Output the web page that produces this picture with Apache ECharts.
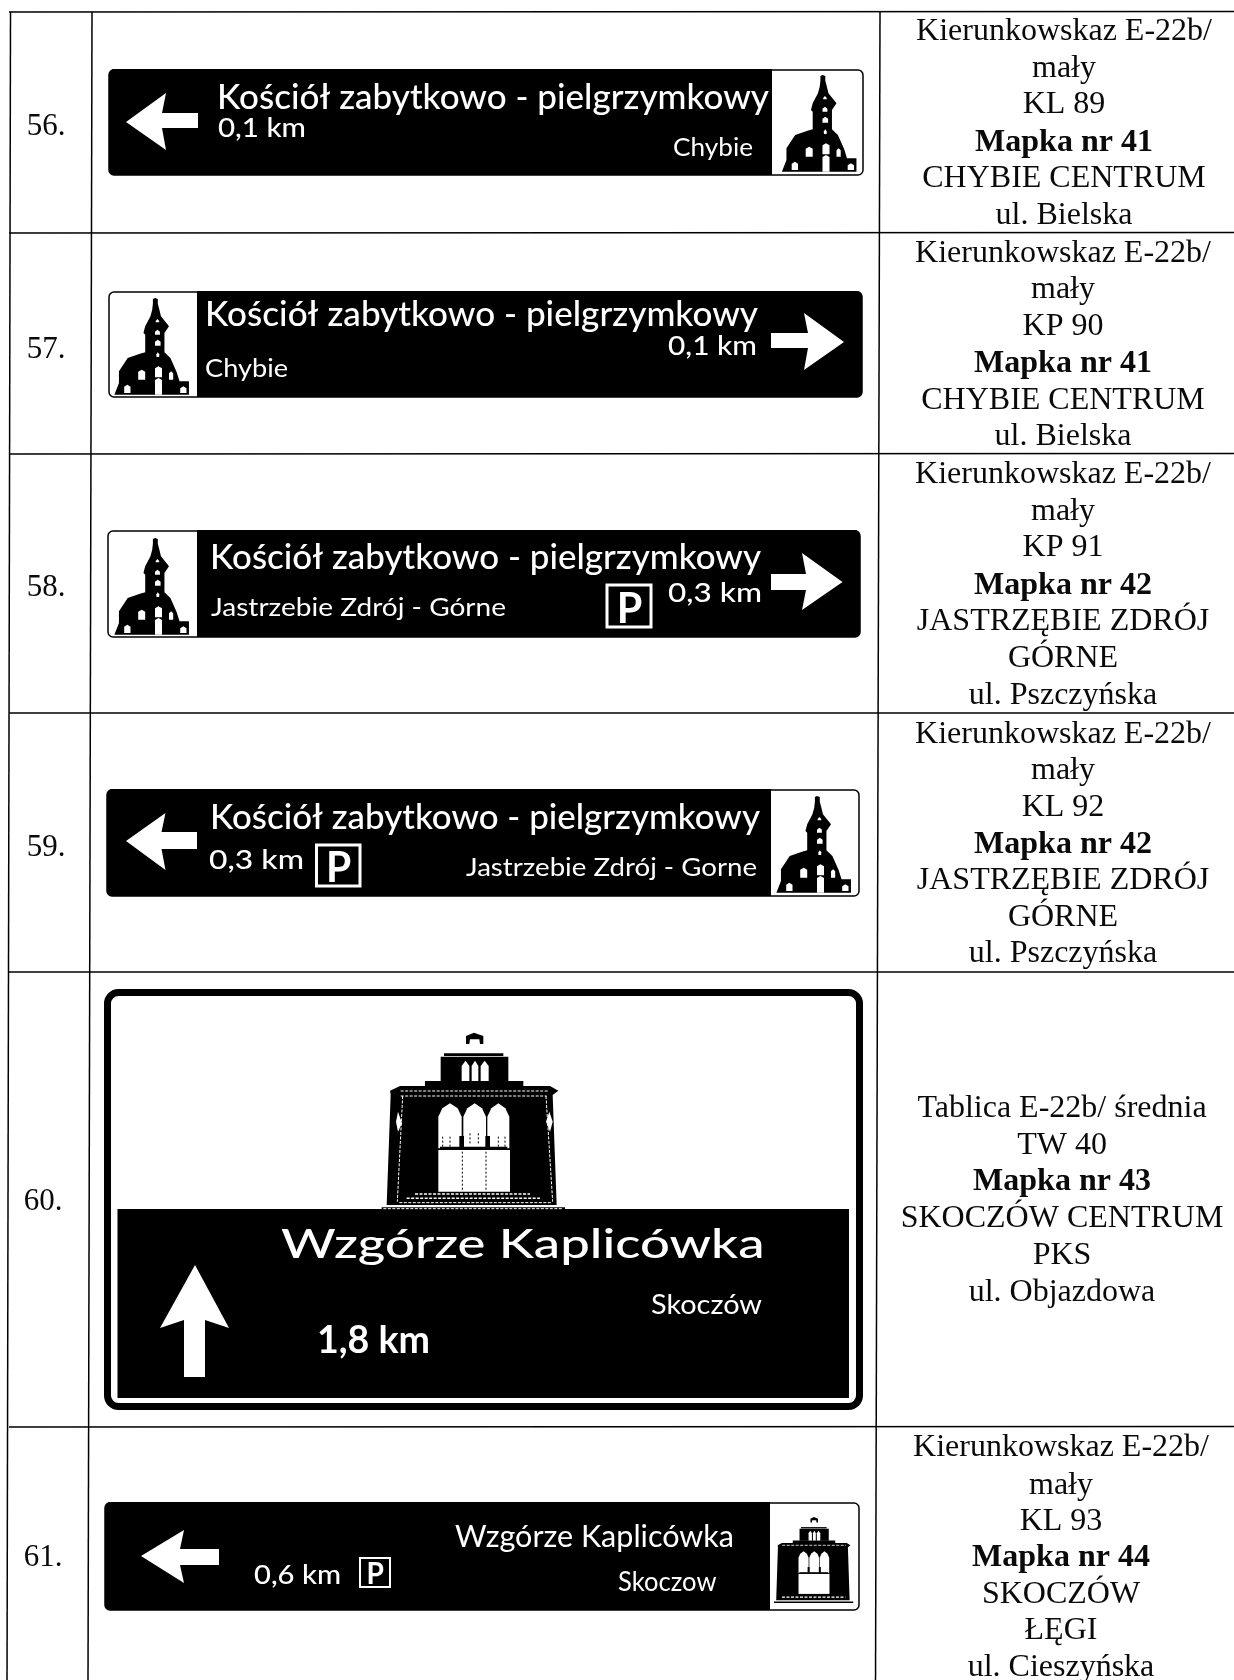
<!DOCTYPE html>
<html><head><meta charset="utf-8">
<style>html,body{margin:0;padding:0;background:#fff}#c{width:1234px;height:1680px}</style>
<script src="https://cdn.jsdelivr.net/npm/echarts@6/dist/echarts.min.js"></script>
</head><body><div id="c"></div>
<script>
// ---- content ----
const rowNumbers = ['56.', '57.', '58.', '59.', '60.', '61.'];
const desc56 = ['Kierunkowskaz E-22b/', 'mały', 'KL 89', 'Mapka nr 41', 'CHYBIE CENTRUM', 'ul. Bielska'];
const desc57 = ['Kierunkowskaz E-22b/', 'mały', 'KP 90', 'Mapka nr 41', 'CHYBIE CENTRUM', 'ul. Bielska'];
const desc58 = ['Kierunkowskaz E-22b/', 'mały', 'KP 91', 'Mapka nr 42', 'JASTRZĘBIE ZDRÓJ', 'GÓRNE', 'ul. Pszczyńska'];
const desc59 = ['Kierunkowskaz E-22b/', 'mały', 'KL 92', 'Mapka nr 42', 'JASTRZĘBIE ZDRÓJ', 'GÓRNE', 'ul. Pszczyńska'];
const desc60 = ['Tablica E-22b/ średnia', 'TW 40', 'Mapka nr 43', 'SKOCZÓW CENTRUM', 'PKS', 'ul. Objazdowa'];
const desc61 = ['Kierunkowskaz E-22b/', 'mały', 'KL 93', 'Mapka nr 44', 'SKOCZÓW', 'ŁĘGI', 'ul. Cieszyńska'];
const churchName = 'Kościół zabytkowo - pielgrzymkowy';
const hillName = 'Wzgórze Kaplicówka';
const distances = ['0,1 km', '0,1 km', '0,3 km', '0,3 km', '1,8 km', '0,6 km'];
const places = ['Chybie', 'Chybie', 'Jastrzebie Zdrój - Górne', 'Jastrzebie Zdrój - Gorne', 'Skoczów', 'Skoczow'];

// ---- drawing helpers ----
const els = [];
const K = '#000', W = '#fff';
const measure = document.createElement('canvas').getContext('2d');
function line(x1, y1, x2, y2, w, color, dash) {
  els.push({ type: 'line', silent: true, shape: { x1, y1, x2, y2 },
    style: { stroke: color || K, lineWidth: w || 1.5, lineDash: dash || null } });
}
function rect(x, y, width, height, r, fill, stroke, lw) {
  els.push({ type: 'rect', silent: true, shape: { x, y, width, height, r: r || 0 },
    style: { fill: fill || 'none', stroke: stroke || 'none', lineWidth: lw || 0 } });
}
function poly(points, fill) {
  els.push({ type: 'polygon', silent: true, shape: { points }, style: { fill: fill || K } });
}
function fitText(str, left, right, base, fs, weight) {
  const w = weight || 500, fam = 'Lato';
  measure.font = w + ' ' + fs + 'px ' + fam;
  const sx = (right - left) / measure.measureText(str).width;
  els.push({ type: 'text', silent: true, x: left, y: base - 0.29 * fs, scaleX: sx,
    style: { text: str, x: 0, y: 0, fill: W, font: w + ' ' + fs + 'px ' + fam, align: 'left', verticalAlign: 'middle' } });
}
function serif(str, x, y, fs, bold, align) {
  els.push({ type: 'text', silent: true, x, y: y + 2,
    style: { text: str, x: 0, y: 0, fill: '#0a0a0a', align: align || 'center', verticalAlign: 'middle',
      font: (bold ? 'bold ' : '') + fs + 'px "Liberation Serif"' } });
}
function sign(x0, y0, x1, y1, split, panelLeft) {
  rect(x0, y0, x1 - x0, y1 - y0, 5, W, K, 1.5);
  if (panelLeft) rect(split, y0 - 1, x1 - split, y1 - y0 + 1, [0, 5, 5, 0], K);
  else rect(x0, y0 - 1, split - x0, y1 - y0 + 1, [5, 0, 0, 5], K);
}
function arrowH(tip, back, shaftEnd, cy, headTop, headBot, shTop, shBot) {
  const d = back > tip ? -4 : 4;
  poly([[tip, cy], [back, headTop], [back + d, shTop], [shaftEnd, shTop], [shaftEnd, shBot], [back + d, shBot], [back, headBot]], W);
}
function pBox(x0, y0, x1, y1, lw) {
  rect(x0, y0, x1 - x0, y1 - y0, 0, K, W, lw);
  const h = y1 - y0, w = x1 - x0;
  fitText('P', x0 + w * 0.22, x0 + w * 0.8, y1 - h * 0.13, h * 1.02, 700);
}
function church(ox, oy) {
  const m = (p) => p.map(([a, b]) => [ox + (a - 178) * 0.35, oy + (b - 45) / 3]);
  poly(m([[178, 45], [186, 48], [186, 62], [190, 78], [195, 100], [218, 130], [205, 150], [205, 208], [222, 225],
    [240, 268], [248, 295], [275, 295], [275, 335], [62, 335], [75, 300], [75, 265], [100, 225], [135, 212],
    [150, 208], [150, 155], [145, 150], [150, 130], [165, 100], [170, 80], [172, 62], [172, 48]]), K);
  const win = [[178, 285, 198, 335], [130, 260, 150, 290], [178, 250, 198, 283], [218, 265, 230, 290],
    [90, 305, 108, 330], [250, 310, 268, 330], [180, 108, 190, 118], [178, 140, 192, 155], [178, 170, 194, 188], [182, 208, 190, 222]];
  win.forEach(([a, b, c, d]) => poly(m([[a, b + 6], [(a + c) / 2, b], [c, b + 6], [c, d], [a, d]]), W));
}
function chapel(ox, oy, sx, sy, detail) {
  const m = (p) => p.map(([a, b]) => [ox + a * sx, oy + b * sy]);
  const R = (a, b, c, d, f) => poly(m([[a, b], [c, b], [c, d], [a, d]]), f || K);
  poly(m([[288, 72], [288, 48], [312, 38], [340, 48], [340, 72], [330, 72], [328, 58], [300, 58], [298, 72]]), K);
  R(222, 100, 400, 108);
  R(212, 110, 415, 185);
  R(165, 183, 460, 200);
  poly(m([[90, 198], [540, 198], [565, 212], [548, 225], [560, 555], [50, 555], [62, 225], [60, 212]]), K);
  R(35, 562, 585, 572);
  [[275, 298], [305, 325], [332, 356]].forEach(([a, c]) =>
    poly(m([[a, 183], [a, 138], [(a + c) / 2, 122], [c, 138], [c, 183]]), W));
  [[205, 275], [280, 348], [352, 418]].forEach(([a, c]) =>
    poly(m([[a, 385], [a, 290], [a + 12, 265], [(a + c) / 2, 250], [c - 12, 265], [c, 290], [c, 385]]), W));
  R(205, 390, 420, 515, W);
  R(210, 380, 412, 390);
  R(268, 348, 282, 382);
  R(346, 348, 360, 382);
  const D = (a, b, c, d, lw) => {
    const p = m([[a, b], [c, d]]);
    line(p[0][0], p[0][1], p[1][0], p[1][1], lw || 1, W, [3, 1.5]);
  };
  if (detail) {
    D(92, 213, 535, 213); D(92, 228, 530, 228); D(98, 228, 82, 545); D(528, 228, 548, 545);
    D(88, 548, 545, 548); D(135, 522, 480, 522, 1.5); D(110, 535, 510, 535, 1.5); D(40, 566, 580, 566, 1);
    const B = (a, b, c, d) => { const p = m([[a, b], [c, d]]); line(p[0][0], p[0][1], p[1][0], p[1][1], 1, K, [2, 2]); };
    B(277, 395, 277, 515); B(348, 395, 348, 515);
    B(218, 350, 218, 380); B(240, 350, 240, 380); B(300, 340, 300, 375); B(325, 340, 325, 375); B(385, 350, 385, 380); B(405, 350, 405, 380);
    poly(m([[84, 275], [96, 310], [84, 335], [78, 305]]), W);
    poly(m([[538, 275], [548, 305], [540, 335], [528, 305]]), W);
  } else {
    D(92, 213, 535, 213, 0.8); D(90, 535, 530, 535, 1.2);
  }
}

// ---- table grid ----
[[12, 11.5], [233, 232.5], [454, 453.5], [713, 713], [972, 972], [1427, 1426.5]].forEach(([a, b]) => line(9, a, 1234, b, 1.6));
line(10.5, 12, 7, 1680, 1.5);
line(92, 12, 88, 1680, 1.5);
line(880, 12, 875.5, 1680, 1.5);

// ---- row labels ----
[125, 348, 586, 846, 1200, 1556].forEach((y, i) => serif(rowNumbers[i], i < 4 ? 46 : 43, y, 31));

// ---- description column ----
function column(lines, ys, cx) {
  lines.forEach((t, i) => serif(t, cx, ys[i], 32, /^Mapka/.test(t)));
}
column(desc56, [30, 67, 103, 141, 177, 214], 1064);
column(desc57, [252, 288, 325, 362, 399, 435], 1063);
column(desc58, [473, 510, 546, 584, 620, 657, 694], 1063);
column(desc59, [733, 769, 806, 843, 879, 916, 952], 1063);
column(desc60, [1107, 1144, 1180, 1217, 1254, 1291], 1062);
column(desc61, [1446, 1484, 1520, 1556, 1593, 1629, 1666], 1061);

// ---- sign 56 ----
sign(109, 70, 863, 175, 772, false);
arrowH(126, 166, 198, 122, 93, 150, 113, 128);
fitText(churchName, 217, 769, 108, 35);
fitText(distances[0], 218, 306, 136, 27);
fitText(places[0], 673, 753, 155, 25, 400);
church(822.5, 75);

// ---- sign 57 ----
sign(109, 292, 862, 397, 197, true);
arrowH(844, 804, 771, 342, 313, 370, 333, 348);
fitText(churchName, 205, 758, 325, 35);
fitText(distances[1], 668, 757, 354, 27);
fitText(places[1], 205, 288, 376, 25, 400);
church(155, 298);

// ---- sign 58 ----
sign(108, 531, 860, 637, 197, true);
arrowH(842.5, 802, 771, 582, 553, 610, 574, 590);
fitText(churchName, 210, 761, 568, 35);
fitText(places[2], 211, 506, 615, 25, 400);
pBox(607, 585, 651, 627, 3);
fitText(distances[2], 668, 762, 601, 27);
church(155, 538);

// ---- sign 59 ----
sign(107, 790, 859, 896, 771, false);
arrowH(126, 165.5, 197, 841, 813, 870, 832, 849);
fitText(churchName, 210, 760, 828, 35);
fitText(distances[3], 209, 304, 868, 27);
pBox(316.5, 845, 360, 886, 3);
fitText(places[3], 466, 757, 875, 25, 400);
church(817, 796);

// ---- sign 60 ----
rect(107.5, 992.5, 752, 414, 11, W, K, 7);
rect(117.5, 1209, 731.5, 189, 0, K);
chapel(370, 1020, 1 / 3, 1 / 3, true);
fitText(hillName, 281, 764.5, 1257, 40, 500);
fitText(places[4], 651, 762, 1313, 26, 400);
fitText(distances[4], 317, 430, 1352, 38, 700);
poly([[195, 1265], [229, 1328], [205, 1320], [205, 1377], [184, 1377], [184, 1320], [160, 1328]], W);

// ---- sign 61 ----
sign(105, 1503, 859, 1610, 770, false);
arrowH(141, 184, 219, 1556, 1530, 1583, 1549, 1565);
fitText(hillName, 455, 734, 1546, 31, 400);
fitText(distances[5], 254, 341, 1583, 27);
pBox(360, 1558, 390, 1587, 2);
fitText(places[5], 618, 716.5, 1590, 27, 400);
chapel(769, 1511, 0.144, 0.161, false);

const chart = echarts.init(document.getElementById('c'), null, { renderer: 'canvas', width: 1234, height: 1680 });
chart.setOption({ animation: false, backgroundColor: '#fff', graphic: { elements: els } });
</script></body></html>
